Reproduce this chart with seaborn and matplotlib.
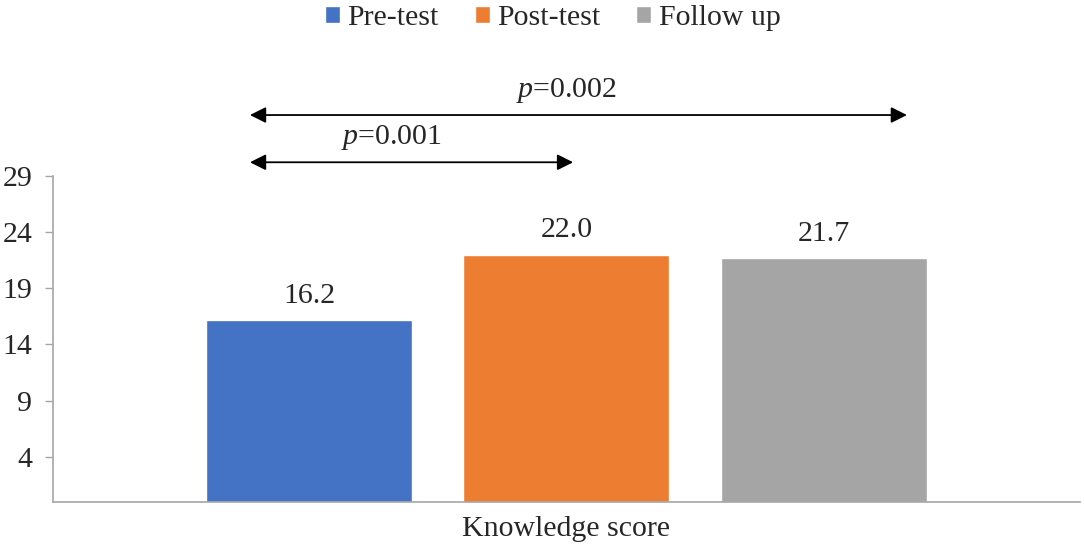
import pandas as pd
import matplotlib.pyplot as plt
import seaborn as sns

# data
groups = ["Pre-test", "Post-test", "Follow up"]
scores = [16.2, 22.0, 21.7]
category = ["Knowledge score"] * 3
colors = ["#4472C4", "#ED7D31", "#A5A5A5"]
y_ticks = [4, 9, 14, 19, 24, 29]
p_labels = ["p=0.001", "p=0.002"]

df = pd.DataFrame({"category": category, "group": groups, "score": scores})

sns.set_theme(style="white")
plt.rcParams["font.family"] = ["Liberation Serif", "DejaVu Serif"]
plt.rcParams["mathtext.fontset"] = "custom"
plt.rcParams["mathtext.it"] = "Liberation Serif:italic"
plt.rcParams["mathtext.rm"] = "Liberation Serif"

FS = 21.5

fig = plt.figure(figsize=(10.84, 5.51), dpi=100)
ax = fig.add_axes([0.049, 0.089, 0.947, 0.592])

sns.barplot(
    data=df, x="category", y="score", hue="group",
    palette=colors, width=0.8, gap=0.2, saturation=1,
    legend=True, ax=ax,
)

for cont in ax.containers:
    ax.bar_label(cont, fmt="%.1f", padding=8, fontsize=FS)

ax.set_xlim(-0.532, 0.532)
ax.set_ylim(0, 29)
ax.set_yticks(y_ticks)
ax.set_xlabel("")
ax.set_ylabel("")
ax.tick_params(axis="y", labelsize=FS, length=6, width=1, color="#A6A6A6",
               left=True, pad=9)
ax.tick_params(axis="x", labelsize=FS, length=0, pad=10)
for side in ["top", "right"]:
    ax.spines[side].set_visible(False)
for side in ["left", "bottom"]:
    ax.spines[side].set_color("#A6A6A6")
    ax.spines[side].set_linewidth(1.2)

# significance arrows above the bars
arrow = dict(arrowstyle="<|-|>", color="black", lw=1.3, mutation_scale=24,
             shrinkA=0, shrinkB=0)
ax.annotate("", xy=(-0.328, 30.2), xytext=(0.007, 30.2),
            arrowprops=arrow, annotation_clip=False)
ax.annotate("", xy=(-0.328, 34.4), xytext=(0.353, 34.4),
            arrowprops=arrow, annotation_clip=False)
ax.text(-0.181, 31.1, r"$\it{p}$=0.001", ha="center", va="bottom",
        fontsize=FS, clip_on=False)
ax.text(0.0, 35.3, r"$\it{p}$=0.002", ha="center", va="bottom",
        fontsize=FS, clip_on=False)

handles, labels = ax.get_legend_handles_labels()
ax.legend(handles, labels, loc="upper center", bbox_to_anchor=(0.51, 1.02),
          bbox_transform=fig.transFigure, ncol=3, frameon=False,
          fontsize=FS, handlelength=0.5, handleheight=0.5,
          handletextpad=0.25, columnspacing=1.2, borderaxespad=0.15)

plt.savefig("out.png", dpi=100)
plt.close()
